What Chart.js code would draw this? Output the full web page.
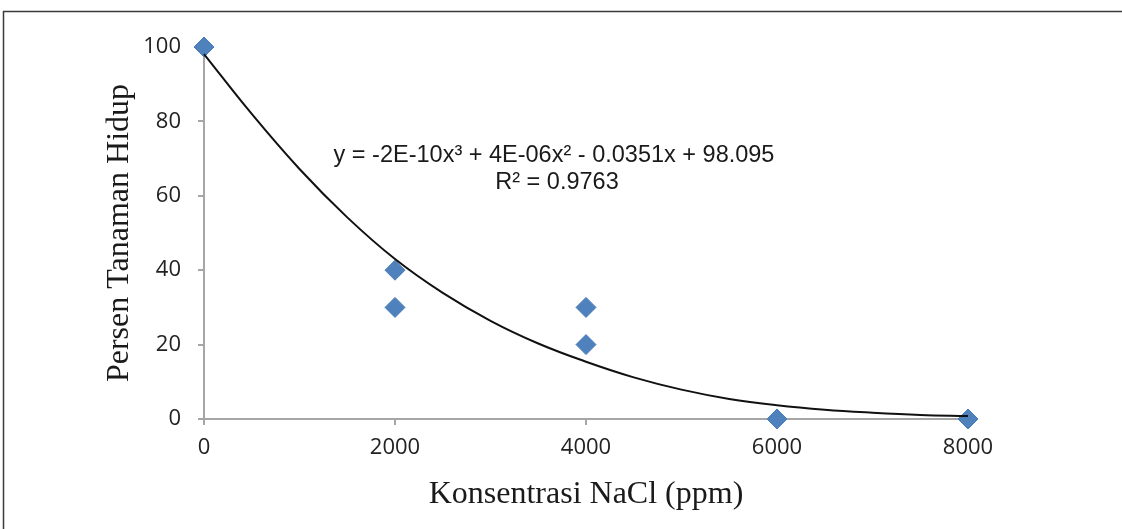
<!DOCTYPE html>
<html>
<head>
<meta charset="utf-8">
<script src="https://cdn.jsdelivr.net/npm/chart.js@4"></script>
<style>
  html, body { margin: 0; padding: 0; background: #fff; overflow: hidden; }
  #wrap { width: 1122px; height: 529px; }
</style>
</head>
<body>
<div id="wrap"><canvas id="grafik" width="1122" height="529"></canvas></div>
<script>
// data pengamatan
const konsentrasi = [0, 2000, 2000, 4000, 4000, 6000, 8000];
const persenHidup = [100, 40, 30, 30, 20, 0, 0];

// garis trend
const trendX = [0, 500, 1000, 1500, 2000, 2500, 3000, 3500, 4000, 4500, 5000, 5500, 6000, 6500, 7000, 7500, 8000];
const trendY = [98.1, 82.0, 67.2, 54.2, 43.0, 33.9, 26.4, 20.3, 15.4, 11.2, 7.9, 5.4, 3.7, 2.5, 1.7, 1.1, 0.8];

const xTicks = [0, 2000, 4000, 6000, 8000];
const yTicks = [0, 20, 40, 60, 80, 100];

const persamaan = ['y = -2E-10x\u00B3 + 4E-06x\u00B2 - 0.0351x + 98.095', 'R\u00B2 = 0.9763'];

const gray = '#a6a6a6';

// bingkai + teks persamaan
const extras = {
    id: 'extras',
    beforeDraw(chart) {
        const ctx = chart.ctx;
        ctx.save();
        ctx.fillStyle = '#fff';
        ctx.fillRect(0, 0, chart.width, chart.height);
        ctx.strokeStyle = '#3a3a3a';
        ctx.lineWidth = 1.5;
        ctx.strokeRect(3.5, 11.5, 1300, 700);
        ctx.restore();
    },
    afterDraw(chart) {
        const ctx = chart.ctx;
        ctx.save();
        ctx.fillStyle = '#1a1a1a';
        ctx.font = '23.5px "Liberation Sans", Arial, sans-serif';
        ctx.textAlign = 'center';
        ctx.textBaseline = 'middle';
        ctx.fillText(persamaan[0], 554, 156);
        ctx.fillText(persamaan[1], 557, 183);
        ctx.restore();
    }
};

new Chart(document.getElementById('grafik'), {
    type: 'scatter',
    data: {
        datasets: [
            {
                label: 'Trend',
                data: trendX.map((x, i) => ({ x: x, y: trendY[i] })),
                showLine: true,
                borderColor: '#111',
                borderWidth: 2,
                pointRadius: 0,
                tension: 0.4,
                fill: false,
                order: 0
            },
            {
                label: 'Persen Tanaman Hidup',
                data: konsentrasi.map((x, i) => ({ x: x, y: persenHidup[i] })),
                pointStyle: 'rectRot',
                pointRadius: 10,
                backgroundColor: '#4f81bd',
                borderColor: '#4a7ebb',
                borderWidth: 1,
                order: 1
            }
        ]
    },
    options: {
        responsive: false,
        animation: false,
        devicePixelRatio: 1,
        clip: false,
        layout: { padding: { top: 47, right: 154, left: 0, bottom: 0 } },
        plugins: {
            legend: { display: false },
            tooltip: { enabled: false }
        },
        scales: {
            x: {
                type: 'linear',
                min: 0,
                max: 8000,
                afterFit(scale) { scale.height = 110; },
                afterBuildTicks(scale) { scale.ticks = xTicks.map(v => ({ value: v })); },
                border: { display: true, color: gray, width: 2 },
                grid: { display: true, drawOnChartArea: false, drawTicks: true, tickLength: 6, color: gray, lineWidth: 2 },
                ticks: {
                    color: '#222',
                    font: { family: '"Open Sans", sans-serif', size: 22 },
                    padding: 10,
                    maxRotation: 0,
                    callback: v => String(v)
                },
                title: {
                    display: true,
                    text: 'Konsentrasi NaCl (ppm)',
                    color: '#1a1a1a',
                    font: { family: '"Liberation Serif", "Times New Roman", serif', size: 32 },
                    padding: { top: 0, bottom: 15 }
                }
            },
            y: {
                type: 'linear',
                min: 0,
                max: 100,
                afterFit(scale) { scale.width = 204; },
                afterBuildTicks(scale) { scale.ticks = yTicks.map(v => ({ value: v })); },
                border: { display: true, color: gray, width: 2 },
                grid: { display: true, drawOnChartArea: false, drawTicks: true, tickLength: 6, color: gray, lineWidth: 2 },
                ticks: {
                    color: '#222',
                    font: { family: '"Open Sans", sans-serif', size: 22 },
                    padding: 17
                },
                title: {
                    display: true,
                    text: 'Persen Tanaman Hidup',
                    color: '#1a1a1a',
                    font: { family: '"Liberation Serif", "Times New Roman", serif', size: 32 },
                    padding: { top: 100, bottom: 0 }
                }
            }
        }
    },
    plugins: [extras]
});
</script>
</body>
</html>
